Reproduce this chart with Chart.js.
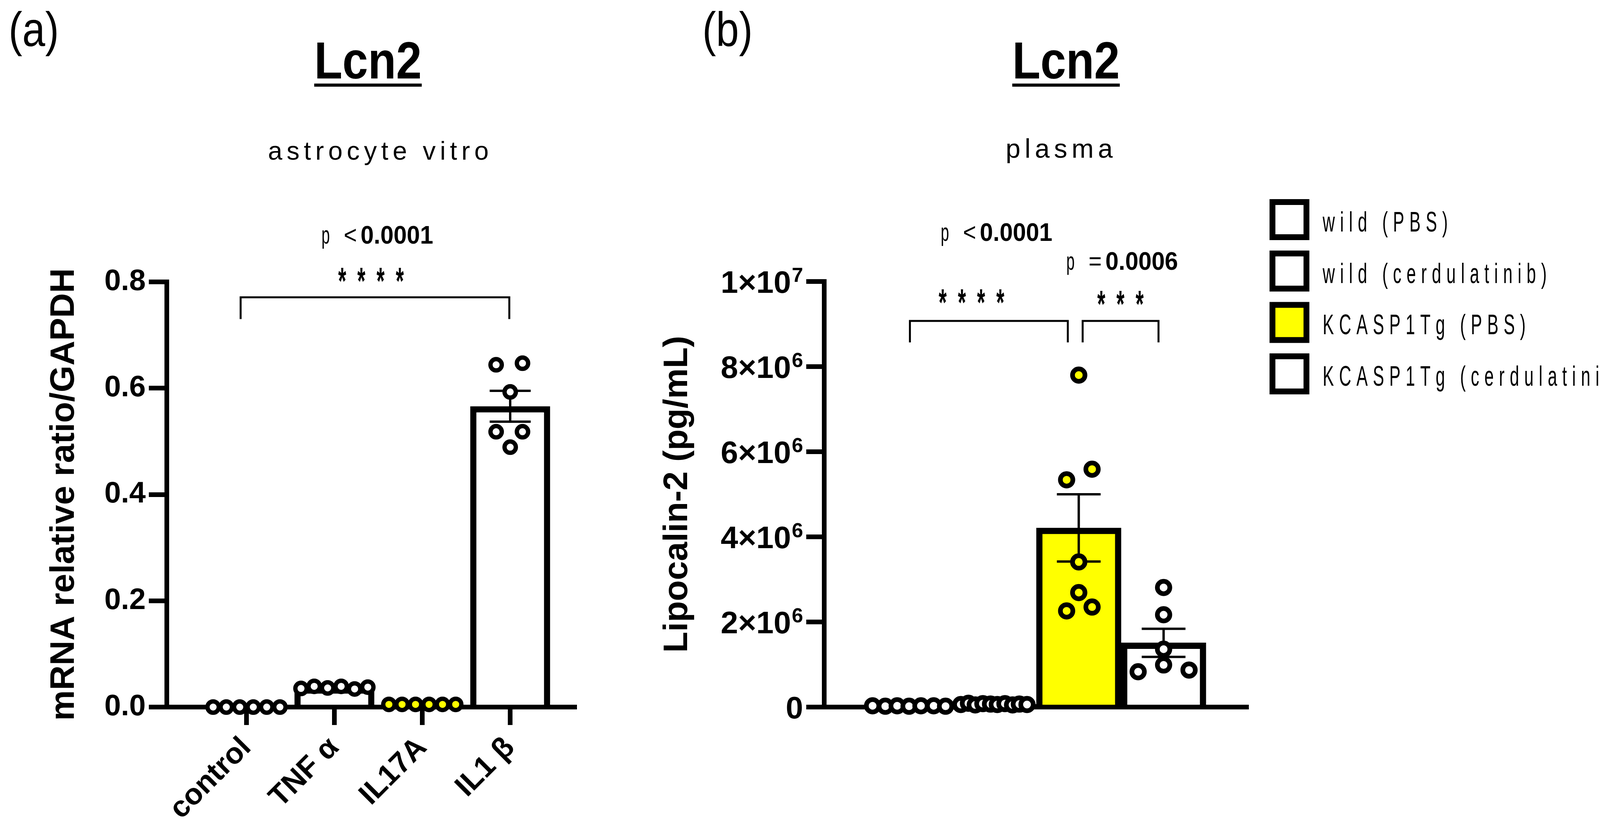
<!DOCTYPE html>
<html>
<head>
<meta charset="utf-8">
<title>Lcn2</title>
<script src="https://cdn.jsdelivr.net/npm/chart.js@4.4.0/dist/chart.umd.min.js"></script>
<style>
  html, body { margin: 0; padding: 0; background: #fff; }
  body { width: 4226px; height: 2131px; position: relative; overflow: hidden; }
  canvas { position: absolute; top: 0; }
</style>
</head>
<body>
<canvas id="chart-a" width="1600" height="2131" style="left:0;width:1600px;height:2131px"></canvas>
<canvas id="chart-b" width="2626" height="2131" style="left:1600px;width:2626px;height:2131px"></canvas>
<script>
// (a) astrocyte vitro - Lcn2 mRNA
const catsA = ["control", "TNF α", "IL17A", "IL1 β"];
const meanA = [0, 0.037, 0.005, 0.566];
const semA = [0, 0.0015, 0.0005, 0.029];
const dotsA = [
  [0, 0, 0, 0, 0, 0],
  [0.035, 0.039, 0.036, 0.039, 0.034, 0.0375],
  [0.005, 0.005, 0.005, 0.005, 0.005, 0.005],
  [0.644, 0.647, 0.593, 0.518, 0.518, 0.489],
];

// (b) plasma - Lipocalin-2
const catsB = ["wild (PBS)", "wild (cerdulatinib)", "KCASP1Tg (PBS)", "KCASP1Tg (cerdulatinib)"];
const meanB = [25000, 67000, 4210000, 1510000];
const semB = [0, 0, 790000, 330000];
const dotsB = [
  [30000, 20000, 30000, 20000, 30000, 30000, 20000],
  [60000, 90000, 50000, 80000, 70000, 60000, 80000, 50000, 70000, 60000],
  [7800000, 5340000, 5590000, 3410000, 2690000, 2260000, 2350000],
  [2810000, 2170000, 1360000, 990000, 830000, 870000],
];

// horizontal spread of the dots inside each group (category units)
const spread6 = [-0.38, -0.23, -0.077, 0.077, 0.23, 0.38];
const jitterA = [spread6, spread6, spread6, [-0.16, 0.14, 0, -0.16, 0.14, 0]];
const jitterB = [
  [-0.43, -0.28, -0.14, 0, 0.14, 0.29, 0.43],
  [-0.39, -0.3, -0.22, -0.13, -0.04, 0.04, 0.13, 0.22, 0.3, 0.39],
  [0, -0.143, 0.157, 0, 0, -0.143, 0.157],
  [0, 0, 0, 0, -0.3, 0.3],
];

const YELLOW = "#ffff00";
const barFillA = ["#fff", "#fff", "#fff", "#fff"];
const dotFillA = ["#fff", "#fff", YELLOW, "#fff"];
const barFillB = ["#fff", "#fff", YELLOW, "#fff"];
const dotFillB = ["#fff", "#fff", YELLOW, "#fff"];

const FONT = "'Liberation Sans', Arial, Helvetica, sans-serif";
Chart.defaults.font.family = FONT;
Chart.defaults.color = "#000";

function drawText(ctx, str, x, y, o) {
  ctx.save();
  ctx.font = o.font;
  ctx.fillStyle = "#000";
  ctx.textAlign = o.align || "left";
  ctx.textBaseline = "alphabetic";
  ctx.letterSpacing = (o.ls || 0) + "px";
  ctx.translate(x, y);
  ctx.scale(o.sx || 1, 1);
  ctx.fillText(str, 0, 0);
  const w = ctx.measureText(str).width * (o.sx || 1);
  ctx.restore();
  return w;
}

function dotPoints(dots, jitter) {
  const pts = [];
  dots.forEach((g, i) => g.forEach((v, j) => pts.push({ x: i + 1 + jitter[i][j], y: v })));
  return pts;
}
function dotColors(dots, fills) {
  const c = [];
  dots.forEach((g, i) => g.forEach(() => c.push(fills[i])));
  return c;
}

function errorBars(means, sems, capW) {
  return {
    id: "errorBars",
    afterDatasetDraw(chart, args) {
      if (args.meta.type !== "bar") return;
      const { ctx } = chart;
      const x = chart.scales.x, y = chart.scales.y;
      ctx.save();
      ctx.strokeStyle = "#000";
      ctx.lineWidth = 6;
      means.forEach((m, i) => {
        if (!sems[i]) return;
        const px = x.getPixelForValue(i + 1);
        const top = y.getPixelForValue(m + sems[i]);
        const bot = y.getPixelForValue(m - sems[i]);
        ctx.beginPath();
        ctx.moveTo(px, top); ctx.lineTo(px, bot);
        ctx.moveTo(px - capW / 2, top); ctx.lineTo(px + capW / 2, top);
        ctx.moveTo(px - capW / 2, bot); ctx.lineTo(px + capW / 2, bot);
        ctx.stroke();
      });
      ctx.restore();
    },
  };
}

// significance brackets, stars and p values, given in data units
function sigMarks(marks) {
  return {
    id: "sigMarks",
    afterDraw(chart) {
      const { ctx } = chart;
      const x = chart.scales.x, y = chart.scales.y;
      marks.forEach((m) => {
        const x1 = x.getPixelForValue(m.x1), x2 = x.getPixelForValue(m.x2);
        const yb = y.getPixelForValue(m.y), yl = y.getPixelForValue(m.yLeg);
        ctx.save();
        ctx.strokeStyle = "#000";
        ctx.lineWidth = 5;
        ctx.beginPath();
        ctx.moveTo(x1, yl); ctx.lineTo(x1, yb); ctx.lineTo(x2, yb); ctx.lineTo(x2, yl);
        ctx.stroke();
        ctx.restore();
        const sx = x.getPixelForValue(m.starX), sy = y.getPixelForValue(m.starY);
        drawText(ctx, m.stars, sx + 24, sy + 52, { font: "bold 96px " + FONT, align: "center", sx: 0.55, ls: 52 });
        const px = x.getPixelForValue(m.pX), py = y.getPixelForValue(m.pY);
        drawText(ctx, "p", px, py, { font: "64px " + FONT, sx: 0.6 });
        drawText(ctx, m.sign, px + 57, py, { font: "64px " + FONT, sx: 0.9 });
        drawText(ctx, m.p, px + 100, py, { font: "bold 64px " + FONT, sx: 0.95 });
      });
    },
  };
}

function headings(items) {
  return {
    id: "headings",
    afterDraw(chart) {
      const { ctx } = chart;
      items.forEach((t) => {
        const w = drawText(ctx, t.text, t.x, t.y, t);
        if (t.underline) {
          ctx.fillStyle = "#000";
          ctx.fillRect(t.x - w / 2, t.y + 13, w, 8);
        }
      });
    },
  };
}

// y ticks of panel (b): tick marks plus labels written as m×10 with a raised exponent
const powerTicks = {
  id: "powerTicks",
  afterDraw(chart) {
    const { ctx } = chart;
    const y = chart.scales.y;
    const right = y.right - 46 - 8;
    y.ticks.forEach((t) => {
      const ty = y.getPixelForValue(t.value);
      ctx.fillStyle = "#000";
      ctx.fillRect(y.right - 46, ty - 6, 46, 12);
      const py = ty + 29;
      if (t.value === 0) {
        drawText(ctx, "0", right, py, { font: "bold 80px " + FONT, align: "right" });
        return;
      }
      const e = Math.floor(Math.log10(t.value) + 1e-9);
      const m = Math.round(t.value / 10 ** e);
      const wExp = drawText(ctx, String(e), right, py - 28, { font: "bold 52px " + FONT, align: "right" });
      drawText(ctx, m + "×10", right - wExp - 2, py, { font: "bold 80px " + FONT, align: "right" });
    });
  },
};

function axisOpts() {
  return {
    grid: { drawOnChartArea: false, offset: false, color: "#000", lineWidth: 12, tickLength: 46 },
    border: { color: "#000", width: 12 },
  };
}

// ---------- (a) ----------
new Chart(document.getElementById("chart-a"), {
  type: "bar",
  data: {
    datasets: [
      {
        type: "bar",
        data: meanA.map((m, i) => ({ x: i + 1, y: m })),
        backgroundColor: barFillA,
        borderColor: "#000",
        borderWidth: 16,
        categoryPercentage: 1,
        barPercentage: 0.91,
        order: 2,
      },
      {
        type: "scatter",
        data: dotPoints(dotsA, jitterA),
        pointRadius: 14.5,
        pointBorderWidth: 11,
        pointBorderColor: "#000",
        pointBackgroundColor: dotColors(dotsA, dotFillA),
        clip: false,
        order: 1,
      },
    ],
  },
  options: {
    responsive: false,
    animation: false,
    devicePixelRatio: 1,
    layout: { padding: { left: 0, top: 722, right: 129, bottom: 0 } },
    plugins: { legend: { display: false }, tooltip: { enabled: false } },
    scales: {
      x: {
        type: "linear",
        offset: false,
        min: 0.093,
        max: 4.733,
        ...axisOpts(),
        afterBuildTicks: (s) => { s.ticks = catsA.map((c, i) => ({ value: i + 1 })); },
        afterFit: (s) => { s.height = 320; },
        ticks: {
          autoSkip: false,
          maxRotation: 45,
          minRotation: 45,
          padding: 14,
          font: { size: 76, weight: "bold" },
          callback: (v) => catsA[v - 1],
        },
      },
      y: {
        min: 0,
        max: 0.8,
        ...axisOpts(),
        afterFit: (s) => { s.width = 427; },
        ticks: { stepSize: 0.2, padding: 8, font: { size: 76, weight: "bold" }, callback: (v) => v.toFixed(1) },
        title: {
          display: true,
          text: "mRNA relative ratio/GAPDH",
          font: { size: 88, weight: "bold" },
          padding: { top: 112, bottom: 0 },
        },
      },
    },
  },
  plugins: [
    errorBars(meanA, semA, 105),
    sigMarks([
      { x1: 0.933, x2: 3.99, y: 0.771, yLeg: 0.73, stars: "****", starX: 2.373, starY: 0.816,
        pX: 1.853, pY: 0.872, sign: "<", p: "0.0001" },
    ]),
    headings([
      { text: "(a)", x: 22, y: 118, font: "124px " + FONT, sx: 0.85 },
      { text: "Lcn2", x: 942, y: 201, font: "bold 134px " + FONT, align: "center", sx: 0.88, underline: true },
      { text: "astrocyte vitro", x: 974, y: 409, font: "66px " + FONT, align: "center", ls: 11 },
    ]),
  ],
});

// ---------- (b) ----------
new Chart(document.getElementById("chart-b"), {
  type: "bar",
  data: {
    datasets: [
      {
        type: "bar",
        data: meanB.map((m, i) => ({ x: i + 1, y: m })),
        backgroundColor: barFillB,
        borderColor: "#000",
        borderWidth: 16,
        categoryPercentage: 1,
        barPercentage: 1,
        order: 2,
      },
      {
        type: "scatter",
        data: dotPoints(dotsB, jitterB),
        pointRadius: 16,
        pointBorderWidth: 12,
        pointBorderColor: "#000",
        pointBackgroundColor: dotColors(dotsB, dotFillB),
        clip: false,
        order: 1,
      },
    ],
  },
  options: {
    responsive: false,
    animation: false,
    devicePixelRatio: 1,
    layout: { padding: { left: 0, top: 721, right: 1030, bottom: 0 } },
    plugins: { legend: { display: false }, tooltip: { enabled: false } },
    scales: {
      x: {
        type: "linear",
        offset: false,
        min: 0,
        max: 5,
        grid: { drawOnChartArea: false, drawTicks: false, offset: false },
        border: { color: "#000", width: 12 },
        afterBuildTicks: (s) => { s.ticks = catsB.map((c, i) => ({ value: i + 1 })); },
        afterFit: (s) => { s.height = 320; },
        ticks: { display: false },
      },
      y: {
        min: 0,
        max: 10000000,
        ...axisOpts(),
        afterFit: (s) => { s.width = 510; },
        ticks: { stepSize: 2000000, display: false },
        title: {
          display: true,
          text: "Lipocalin-2 (pg/mL)",
          font: { size: 88, weight: "bold" },
          padding: { top: 82, bottom: 0 },
        },
      },
    },
  },
  plugins: [
    errorBars(meanB, semB, 112),
    powerTicks,
    sigMarks([
      { x1: 1.01, x2: 2.871, y: 9073000, yLeg: 8569000, stars: "****", starX: 1.691, starY: 9688000,
        pX: 1.373, pY: 10954000, sign: "<", p: "0.0001" },
      { x1: 3.046, x2: 3.94, y: 9073000, yLeg: 8569000, stars: "***", starX: 3.447, starY: 9651000,
        pX: 2.853, pY: 10275000, sign: "=", p: "0.0006" },
    ]),
    headings([
      { text: "(b)", x: 198, y: 118, font: "124px " + FONT, sx: 0.85 },
      { text: "Lcn2", x: 1129, y: 201, font: "bold 134px " + FONT, align: "center", sx: 0.88, underline: true },
      { text: "plasma", x: 1117, y: 404, font: "68px " + FONT, align: "center", ls: 11 },
    ]),
    {
      id: "groupLegend",
      afterDraw(chart) {
        const { ctx } = chart;
        catsB.forEach((c, i) => {
          const top = 510 + i * 131.7;
          ctx.fillStyle = "#000";
          ctx.fillRect(1650, top, 102, 105);
          ctx.fillStyle = barFillB[i];
          ctx.fillRect(1665, top + 15, 72, 75);
          drawText(ctx, c, 1786, top + 83, { font: "72px " + FONT, sx: 0.6, ls: 22 });
        });
      },
    },
  ],
});
</script>
</body>
</html>
